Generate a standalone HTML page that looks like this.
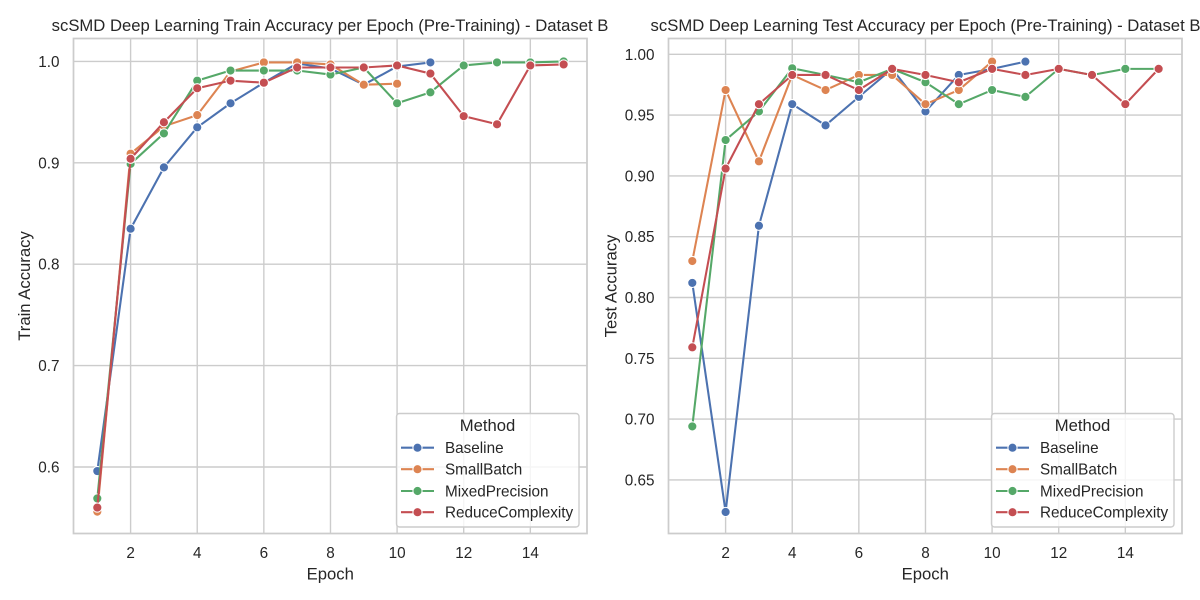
<!DOCTYPE html>
<html lang="en">
<head>
<meta charset="utf-8">
<title>scSMD Deep Learning Accuracy per Epoch</title>
<style>
  html, body { margin: 0; padding: 0; background: #fff; }
  svg { display: block; }
  text { font-family: "Liberation Sans", Arial, sans-serif; fill: #262626; }
</style>
</head>
<body>
<svg id="figure" xmlns="http://www.w3.org/2000/svg" width="1200" height="600" viewBox="0 0 1200 600"></svg>
<script>
const methodNames = ['Baseline', 'SmallBatch', 'MixedPrecision', 'ReduceComplexity'];
const methodColors = ['#4c72b0', '#dd8452', '#55a868', '#c44e52'];
const xTickValues = [2, 4, 6, 8, 10, 12, 14];
const trainTickValues = [0.6, 0.7, 0.8, 0.9, 1.0];
const trainTickLabels = ['0.6', '0.7', '0.8', '0.9', '1.0'];
const testTickValues = [0.65, 0.70, 0.75, 0.80, 0.85, 0.90, 0.95, 1.00];
const testTickLabels = ['0.65', '0.70', '0.75', '0.80', '0.85', '0.90', '0.95', '1.00'];

const trainBaseline = [0.596, 0.835, 0.8955, 0.935, 0.9587, 0.979, 0.998, 0.993, 0.977, 0.995, 0.999];
const trainSmallBatch = [0.556, 0.909, 0.936, 0.947, 0.990, 0.999, 0.999, 0.997, 0.977, 0.978];
const trainMixedPrecision = [0.569, 0.899, 0.929, 0.981, 0.991, 0.991, 0.991, 0.987, 0.994, 0.9587, 0.9695, 0.996, 0.999, 0.999, 1.000];
const trainReduceComplexity = [0.560, 0.904, 0.940, 0.9735, 0.981, 0.979, 0.994, 0.994, 0.994, 0.996, 0.988, 0.946, 0.938, 0.996, 0.997];

const testBaseline = [0.812, 0.6236, 0.859, 0.959, 0.9416, 0.965, 0.988, 0.953, 0.983, 0.988, 0.994];
const testSmallBatch = [0.830, 0.9706, 0.912, 0.983, 0.9706, 0.983, 0.983, 0.959, 0.9706, 0.994];
const testMixedPrecision = [0.694, 0.9295, 0.953, 0.9885, 0.983, 0.977, 0.988, 0.977, 0.959, 0.9706, 0.965, 0.988, 0.983, 0.988, 0.988];
const testReduceComplexity = [0.759, 0.906, 0.959, 0.983, 0.983, 0.9706, 0.988, 0.983, 0.977, 0.988, 0.983, 0.988, 0.983, 0.959, 0.988];

const SVG_NS = 'http://www.w3.org/2000/svg';
const figure = document.getElementById('figure');

function make(parent, tag, attrs, content) {
  const el = document.createElementNS(SVG_NS, tag);
  for (const key in attrs) el.setAttribute(key, attrs[key]);
  if (content !== undefined) el.textContent = content;
  parent.appendChild(el);
  return el;
}

function drawPanel(cfg) {
  const panel = make(figure, 'g', {});
  
  

  const xScale = v => cfg.x0 + (v - 1) * cfg.xUnit;
  const yScale = v => cfg.yTop + (1 - v) * cfg.yUnit;

  // gridlines
  xTickValues.forEach(t => {
    const line = make(panel, 'line', { x1: xScale(t), x2: xScale(t), y1: cfg.top, y2: cfg.bottom, stroke: '#cccccc', 'stroke-width': 1.39 });
    
    
    const label = make(panel, 'text', { x: xScale(t), y: 558, 'text-anchor': 'middle', 'font-size': 15.28 }, String(t));
    
    
  });
  cfg.yTicks.forEach((t, i) => {
    const line = make(panel, 'line', { x1: cfg.left, x2: cfg.right, y1: yScale(t), y2: yScale(t), stroke: '#cccccc', 'stroke-width': 1.39 });
    
    
    const label = make(panel, 'text', { x: cfg.left - 14, y: yScale(t) + 5.5, 'text-anchor': 'end', 'font-size': 15.28 }, cfg.yLabels[i]);
    
    
  });

  // spines
  const frame = make(panel, 'rect', { x: cfg.left, y: cfg.top, width: cfg.right - cfg.left, height: cfg.bottom - cfg.top, fill: 'none', stroke: '#cccccc', 'stroke-width': 1.74 });
  
  

  // series
  cfg.series.forEach((values, s) => {
    const group = make(panel, 'g', {});
    
    
    const pts = values.map((v, i) => xScale(i + 1).toFixed(2) + ',' + yScale(v).toFixed(2)).join(' ');
    const line = make(group, 'polyline', { points: pts, fill: 'none', stroke: methodColors[s], 'stroke-width': 2.08, 'stroke-linejoin': 'round', 'stroke-linecap': 'round' });
    
    
    values.forEach((v, i) => {
      const dot = make(group, 'circle', { cx: xScale(i + 1), cy: yScale(v), r: 4.6, fill: methodColors[s], stroke: '#ffffff', 'stroke-width': 1.04 });
      
      
    });
  });

  // titles
  const title = make(panel, 'text', { x: cfg.titleX, y: 31, 'text-anchor': 'middle', 'font-size': 16.67 }, cfg.title);
  
  
  const xTitle = make(panel, 'text', { x: (cfg.left + cfg.right) / 2, y: 579.3, 'text-anchor': 'middle', 'font-size': 16.67 }, 'Epoch');
  
  
  const yTitle = make(panel, 'text', { x: 0, y: 0, transform: 'translate(' + cfg.yTitleX + ' 286) rotate(-90)', 'text-anchor': 'middle', 'font-size': 16.67 }, cfg.yTitle);
  
  

  // legend
  const legend = make(panel, 'g', {});
  
  
  const box = make(legend, 'rect', { x: cfg.legendX, y: 413.5, width: 182.5, height: 113.5, rx: 3, ry: 3, fill: '#ffffff', 'fill-opacity': 0.8, stroke: '#cccccc', 'stroke-width': 1.39 });
  
  
  const legendTitle = make(legend, 'text', { x: cfg.legendX + 91, y: 431, 'text-anchor': 'middle', 'font-size': 16.67 }, 'Method');
  
  
  const rowY = [447.7, 469.2, 491, 512.2];
  methodNames.forEach((name, s) => {
    const entry = make(legend, 'g', {});
    
    
    make(entry, 'line', { x1: cfg.legendX + 4.5, x2: cfg.legendX + 37.5, y1: rowY[s], y2: rowY[s], stroke: methodColors[s], 'stroke-width': 2.08 });
    make(entry, 'circle', { cx: cfg.legendX + 21, cy: rowY[s], r: 4.6, fill: methodColors[s], stroke: '#ffffff', 'stroke-width': 1.04 });
    make(entry, 'text', { x: cfg.legendX + 48.5, y: rowY[s] + 5.3, 'font-size': 15.28 }, name);
  });
}

drawPanel({
  key: 'train',
  left: 73.5, right: 587, top: 38.5, bottom: 533.5,
  x0: 97.3, xUnit: 33.31, yTop: 61.4, yUnit: 1014,
  yTicks: trainTickValues, yLabels: trainTickLabels,
  series: [trainBaseline, trainSmallBatch, trainMixedPrecision, trainReduceComplexity],
  title: 'scSMD Deep Learning Train Accuracy per Epoch (Pre-Training) - Dataset B',
  titleX: 330, yTitle: 'Train Accuracy', yTitleX: 30, legendX: 396.5
});

drawPanel({
  key: 'test',
  left: 668.5, right: 1182, top: 38.5, bottom: 533.5,
  x0: 692.3, xUnit: 33.31, yTop: 54.3, yUnit: 1216,
  yTicks: testTickValues, yLabels: testTickLabels,
  series: [testBaseline, testSmallBatch, testMixedPrecision, testReduceComplexity],
  title: 'scSMD Deep Learning Test Accuracy per Epoch (Pre-Training) - Dataset B',
  titleX: 925.5, yTitle: 'Test Accuracy', yTitleX: 616.5, legendX: 991.5
});
</script>
</body>
</html>
